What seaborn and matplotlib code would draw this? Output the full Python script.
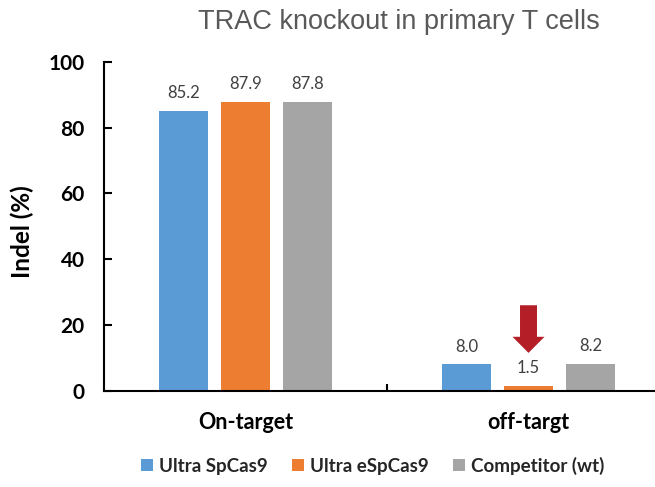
import matplotlib
matplotlib.use("Agg")
import matplotlib.pyplot as plt
from matplotlib.patches import Patch, FancyArrow
import seaborn as sns
import pandas as pd

categories = ["On-target", "off-targt"]
series = ["Ultra SpCas9", "Ultra eSpCas9", "Competitor (wt)"]
ultra_spcas9 = [85.2, 8.0]
ultra_espcas9 = [87.9, 1.5]
competitor_wt = [87.8, 8.2]
colors = ["#5B9BD5", "#ED7D31", "#A5A5A5"]
y_ticks = [0, 20, 40, 60, 80, 100]

sns.set_theme(style="white")
plt.rcParams["font.family"] = ["Lato", "DejaVu Sans"]

rows = []
for name, vals in zip(series, [ultra_spcas9, ultra_espcas9, competitor_wt]):
    for cat, v in zip(categories, vals):
        rows.append({"category": cat, "series": name, "value": v})
df = pd.DataFrame(rows)

fig = plt.figure(figsize=(6.55, 4.87), dpi=100)
ax = fig.add_axes([104 / 655, 1 - 390.7 / 487, 566 / 655, (390.7 - 62) / 487])

sns.barplot(data=df, x="category", y="value", hue="series", order=categories,
            hue_order=series, palette=colors, width=0.657, gap=0.21,
            saturation=1, edgecolor="none", legend=False, ax=ax)

for container in ax.containers:
    ax.bar_label(container, fmt="%.1f", padding=7, fontsize=12, color="#404040")

ax.set_xlim(-0.5, 1.5)
ax.set_ylim(0, 100)
ax.set_yticks(y_ticks)
ax.set_yticklabels([str(t) for t in y_ticks], fontweight="bold", fontsize=15)
ax.set_xticks([0, 1])
ax.set_xticklabels(categories, fontweight="bold", fontsize=15.5)
ax.set_xticks([0.5], minor=True)
ax.tick_params(axis="x", which="major", length=0, pad=15, colors="black")
ax.tick_params(axis="x", which="minor", direction="in", length=5, width=1.5,
               bottom=True, color="black")
ax.tick_params(axis="y", direction="in", length=6, width=1.5, pad=14,
               left=True, colors="black")
ax.set_xlabel("")
ax.set_ylabel("")
for side in ["top", "right"]:
    ax.spines[side].set_visible(False)
for side in ["left", "bottom"]:
    ax.spines[side].set_color("black")
    ax.spines[side].set_linewidth(1.5)

# red arrow pointing at the low off-target value
bar = ax.containers[1].patches[1]
xc = bar.get_x() + bar.get_width() / 2
tip = bar.get_height() + 10.0
arrow = FancyArrow(xc, tip + 14.5, 0, -14.5, width=0.06, head_width=0.113,
                   head_length=4.9, length_includes_head=True,
                   color="#B41F27", linewidth=0)
ax.add_patch(arrow)

fig.text(22 / 655, 1 - 232 / 487, "Indel (%)", rotation=90, ha="center",
         va="center", fontweight="bold", fontsize=17.5, color="black")
fig.text(399 / 655, 1 - 22 / 487, "TRAC knockout in primary T cells",
         ha="center", va="center", fontsize=19.5, color="#595959",
         family="Liberation Sans")

handles = [Patch(facecolor=c, edgecolor="none") for c in colors]
leg = fig.legend(handles, series, loc="center", ncol=3,
                 bbox_to_anchor=(373 / 655, 1 - 466 / 487), frameon=False,
                 handlelength=0.6, handleheight=0.6, handletextpad=0.35,
                 columnspacing=1.3, prop={"weight": "bold", "size": 13.5})

fig.savefig("out.png", dpi=100)
